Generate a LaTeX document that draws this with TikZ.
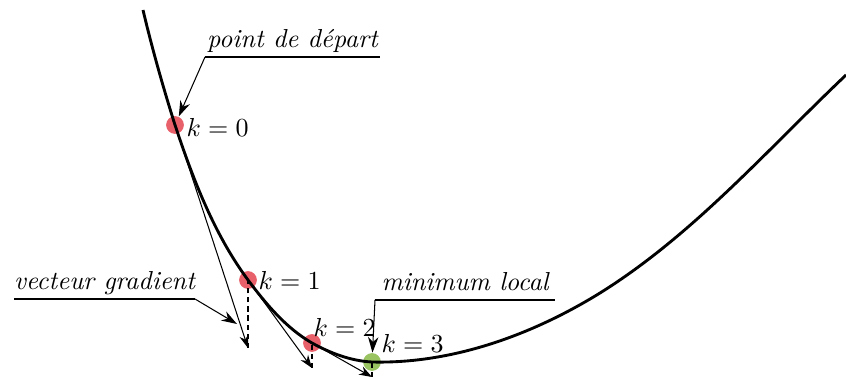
\documentclass[tikz,border=0pt]{standalone}
\usepackage{amsmath}
\usepackage{xcolor}
\usepackage{tikz}
\usetikzlibrary{arrows.meta, calc}
\definecolor{stepred}{HTML}{E8606A}
\definecolor{mingreen}{HTML}{9AC462}
\tikzset{
  iterate/.style={
    circle,
    fill=stepred,
    minimum size=0.24cm,
    inner sep=0pt
  },
  minimum dot/.style={iterate, fill=mingreen},
  cost curve/.style={line width=1.1pt, black},
  grad arrow/.style={-{Stealth[length=5pt, width=3.5pt]}, thin},
  drop line/.style={thin, dash pattern=on 2pt off 1.5pt},
  note/.style={font=\itshape, inner sep=1pt, text depth=0.6ex},
  note line/.style={thin},
  pointer/.style={-{Stealth[length=6pt, width=4pt]}, thin},
  klabel/.style={anchor=west, inner sep=0pt}
}

\begin{document}
\begin{tikzpicture}[x=0.0135cm, y=-0.0135cm]
  \useasboundingbox (0,0) rectangle (846,379);

  % Iterates
  \node[iterate] (n0) at (175,125) {};
  \node[iterate] (n1) at (248,280) {};
  \node[iterate] (n2) at (312,343) {};
  \node[minimum dot] (n3) at (372,362) {};

  % Cost function
  \coordinate (top) at (143,10);
  \coordinate (mid) at (600,293);
  \coordinate (end) at (846,75);
  \draw[cost curve] (top)
    .. controls (152,48) and (163,87) .. (n0.center)
    .. controls (193,179) and (214,234) .. (n1.center)
    .. controls (266,304) and (286,328) .. (n2.center)
    .. controls (330,353) and (351,361) .. (n3.center)
    .. controls (452,364) and (532,335) .. (mid)
    .. controls (693,235) and (766,151) .. (end);

  % Gradient steps
  \coordinate (t0) at (248,348);
  \coordinate (t1) at (312,368);
  \coordinate (t2) at (372,377);
  \foreach \i/\j in {0/1, 1/2, 2/3} {
    \draw[grad arrow] (n\i.center) -- (t\i);
    \draw[drop line] (t\i) -- (n\j.center);
  }

  % Labels of iterates
  \node[klabel] (k0) at (186,127) {$k=0$};
  \node[klabel] (k1) at (258,280) {$k=1$};
  \node[klabel] (k2) at (313,327) {$k=2$};
  \node[klabel] (k3) at (381,343) {$k=3$};

  % Annotations
  \coordinate (dep a) at (205,57);
  \coordinate (dep b) at (380,57);
  \path (dep a) -- node[note, above] (dep) {point de départ} (dep b);
  \draw[note line] (dep a) -- (dep b);
  \draw[pointer] (dep a) -- (n0);

  \coordinate (grad a) at (14,299);
  \coordinate (grad b) at (195,299);
  \coordinate (grad tip) at (237,324);
  \path (grad a) -- node[note, above] (grad) {vecteur gradient} (grad b);
  \draw[note line] (grad a) -- (grad b);
  \draw[pointer] (grad b) -- (grad tip);

  \coordinate (min a) at (375,300);
  \coordinate (min b) at (555,300);
  \path (min a) -- node[note, above] (min) {minimum local} (min b);
  \draw[note line] (min a) -- (min b);
  \draw[pointer] (min a) -- (n3);
\end{tikzpicture}
\end{document}
